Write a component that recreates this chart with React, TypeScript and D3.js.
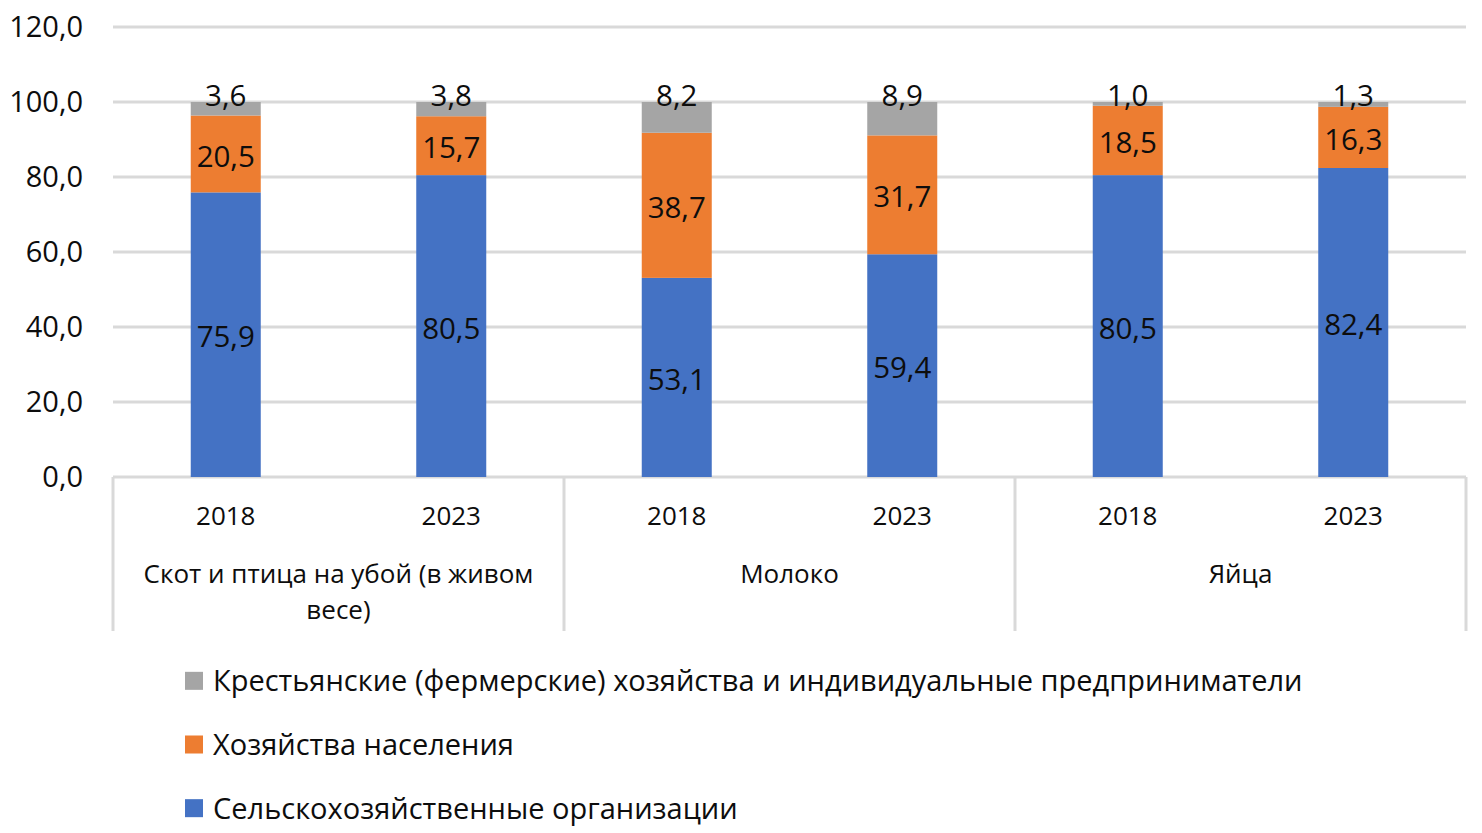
import React, { useEffect, useRef } from "react";
import * as d3 from "d3";

const categories = ["Скот и птица на убой (в живом весе)", "Молоко", "Яйца"];
const years = ["2018", "2023"];
// values per category × year, in order: cat0-2018, cat0-2023, cat1-2018, ...
const organizations = [75.9, 80.5, 53.1, 59.4, 80.5, 82.4];
const households = [20.5, 15.7, 38.7, 31.7, 18.5, 16.3];
const farmers = [3.6, 3.8, 8.2, 8.9, 1.0, 1.3];
const seriesNames = [
  "Сельскохозяйственные организации",
  "Хозяйства населения",
  "Крестьянские (фермерские) хозяйства и индивидуальные предприниматели",
];
const yTicks = [0, 20, 40, 60, 80, 100, 120];

const colors = ["#4472C4", "#ED7D31", "#A5A5A5"];
const FONT = "'Open Sans', sans-serif";

const App: React.FC = () => {
  const svgRef = useRef<SVGSVGElement | null>(null);

  useEffect(() => {
    document.body.style.margin = "0";
    const width = 1482;
    const height = 833;
    const svg = d3.select(svgRef.current).attr("width", width).attr("height", height);
    svg.selectAll("*").remove();

    const fmt = (v: number) => v.toFixed(1).replace(".", ",");

    const y = d3.scaleLinear().domain([0, 120]).range([477, 27]);
    const x0 = d3.scaleBand<string>().domain(categories).range([113, 1466]);
    const x1 = d3.scaleBand<string>().domain(years).range([0, x0.bandwidth()]);
    const barW = 70;

    const rows = categories.flatMap((c, ci) =>
      years.map((yr, yi) => {
        const i = ci * years.length + yi;
        return { cat: c, year: yr, vals: [organizations[i], households[i], farmers[i]] };
      })
    );

    // gridlines
    svg
      .append("g")
      .selectAll("line")
      .data(yTicks)
      .join("line")
      .attr("x1", 113)
      .attr("x2", 1466)
      .attr("y1", (d) => y(d))
      .attr("y2", (d) => y(d))
      .attr("stroke", "#d9d9d9")
      .attr("stroke-width", 3);

    // y tick labels
    svg
      .append("g")
      .selectAll("text")
      .data(yTicks)
      .join("text")
      .attr("x", 83)
      .attr("y", (d) => y(d))
      .attr("dy", "0.36em")
      .attr("text-anchor", "end")
      .style("font-family", FONT)
      .style("font-size", "29px")
      .attr("fill", "#0d0d0d")
      .text((d) => fmt(d));

    // category separators
    const bounds = [...categories.map((c) => x0(c) ?? 0), 1466];
    svg
      .append("g")
      .selectAll("line")
      .data(bounds)
      .join("line")
      .attr("x1", (d) => d)
      .attr("x2", (d) => d)
      .attr("y1", 477)
      .attr("y2", 631)
      .attr("stroke", "#d9d9d9")
      .attr("stroke-width", 3);

    // stacked bars
    const stackG = svg.append("g");
    rows.forEach((r) => {
      const cx = (x0(r.cat) ?? 0) + (x1(r.year) ?? 0) + x1.bandwidth() / 2;
      let base = 0;
      r.vals.forEach((v, si) => {
        const top = base + v;
        stackG
          .append("rect")
          .attr("x", cx - barW / 2)
          .attr("width", barW)
          .attr("y", y(top))
          .attr("height", y(base) - y(top))
          .attr("fill", colors[si]);
        const ly = si === 2 ? y(top) - 7 : y((base + top) / 2) + 2;
        stackG
          .append("text")
          .attr("x", cx)
          .attr("y", ly)
          .attr("dy", "0.36em")
          .attr("text-anchor", "middle")
          .style("font-family", FONT)
          .style("font-size", "29.5px")
          .attr("fill", "#0d0d0d")
          .text(fmt(v));
        base = top;
      });
    });

    // year labels
    const axisG = svg.append("g");
    categories.forEach((c) => {
      years.forEach((yr) => {
        axisG
          .append("text")
          .attr("x", (x0(c) ?? 0) + (x1(yr) ?? 0) + x1.bandwidth() / 2)
          .attr("y", 516)
          .attr("dy", "0.36em")
          .attr("text-anchor", "middle")
          .style("font-family", FONT)
          .style("font-size", "26px")
          .attr("fill", "#0d0d0d")
          .text(yr);
      });
    });

    // category labels with wrapping
    const maxW = x0.bandwidth() - 40;
    categories.forEach((c) => {
      const t = axisG
        .append("text")
        .attr("x", (x0(c) ?? 0) + x0.bandwidth() / 2)
        .attr("y", 574)
        .attr("text-anchor", "middle")
        .style("font-family", FONT)
        .style("font-size", "26px")
        .attr("fill", "#0d0d0d");
      const words = c.split(" ");
      let line: string[] = [];
      let ts = t.append("tspan").attr("x", (x0(c) ?? 0) + x0.bandwidth() / 2).attr("dy", "0.36em");
      words.forEach((w) => {
        line.push(w);
        ts.text(line.join(" "));
        if ((ts.node() as SVGTSpanElement).getComputedTextLength() > maxW && line.length > 1) {
          line.pop();
          ts.text(line.join(" "));
          line = [w];
          ts = t
            .append("tspan")
            .attr("x", (x0(c) ?? 0) + x0.bandwidth() / 2)
            .attr("dy", "36px")
            .text(w);
        }
      });
    });

    // legend (reverse order: gray first)
    const legendOrder = [...seriesNames].reverse();
    const legendY = d3.scaleBand<string>().domain(legendOrder).range([649, 840]);
    const lg = svg.append("g");
    legendOrder.forEach((name) => {
      const si = seriesNames.indexOf(name);
      const cy = (legendY(name) ?? 0) + legendY.bandwidth() / 2;
      lg.append("rect")
        .attr("x", 185)
        .attr("y", cy - 9)
        .attr("width", 18)
        .attr("height", 18)
        .attr("fill", colors[si]);
      lg.append("text")
        .attr("x", 213)
        .attr("y", cy)
        .attr("dy", "0.36em")
        .style("font-family", FONT)
        .style("font-size", "29px")
        .attr("fill", "#0d0d0d")
        .text(name);
    });
  }, []);

  return <svg ref={svgRef} style={{ display: "block", background: "#fff" }} />;
};

export default App;
